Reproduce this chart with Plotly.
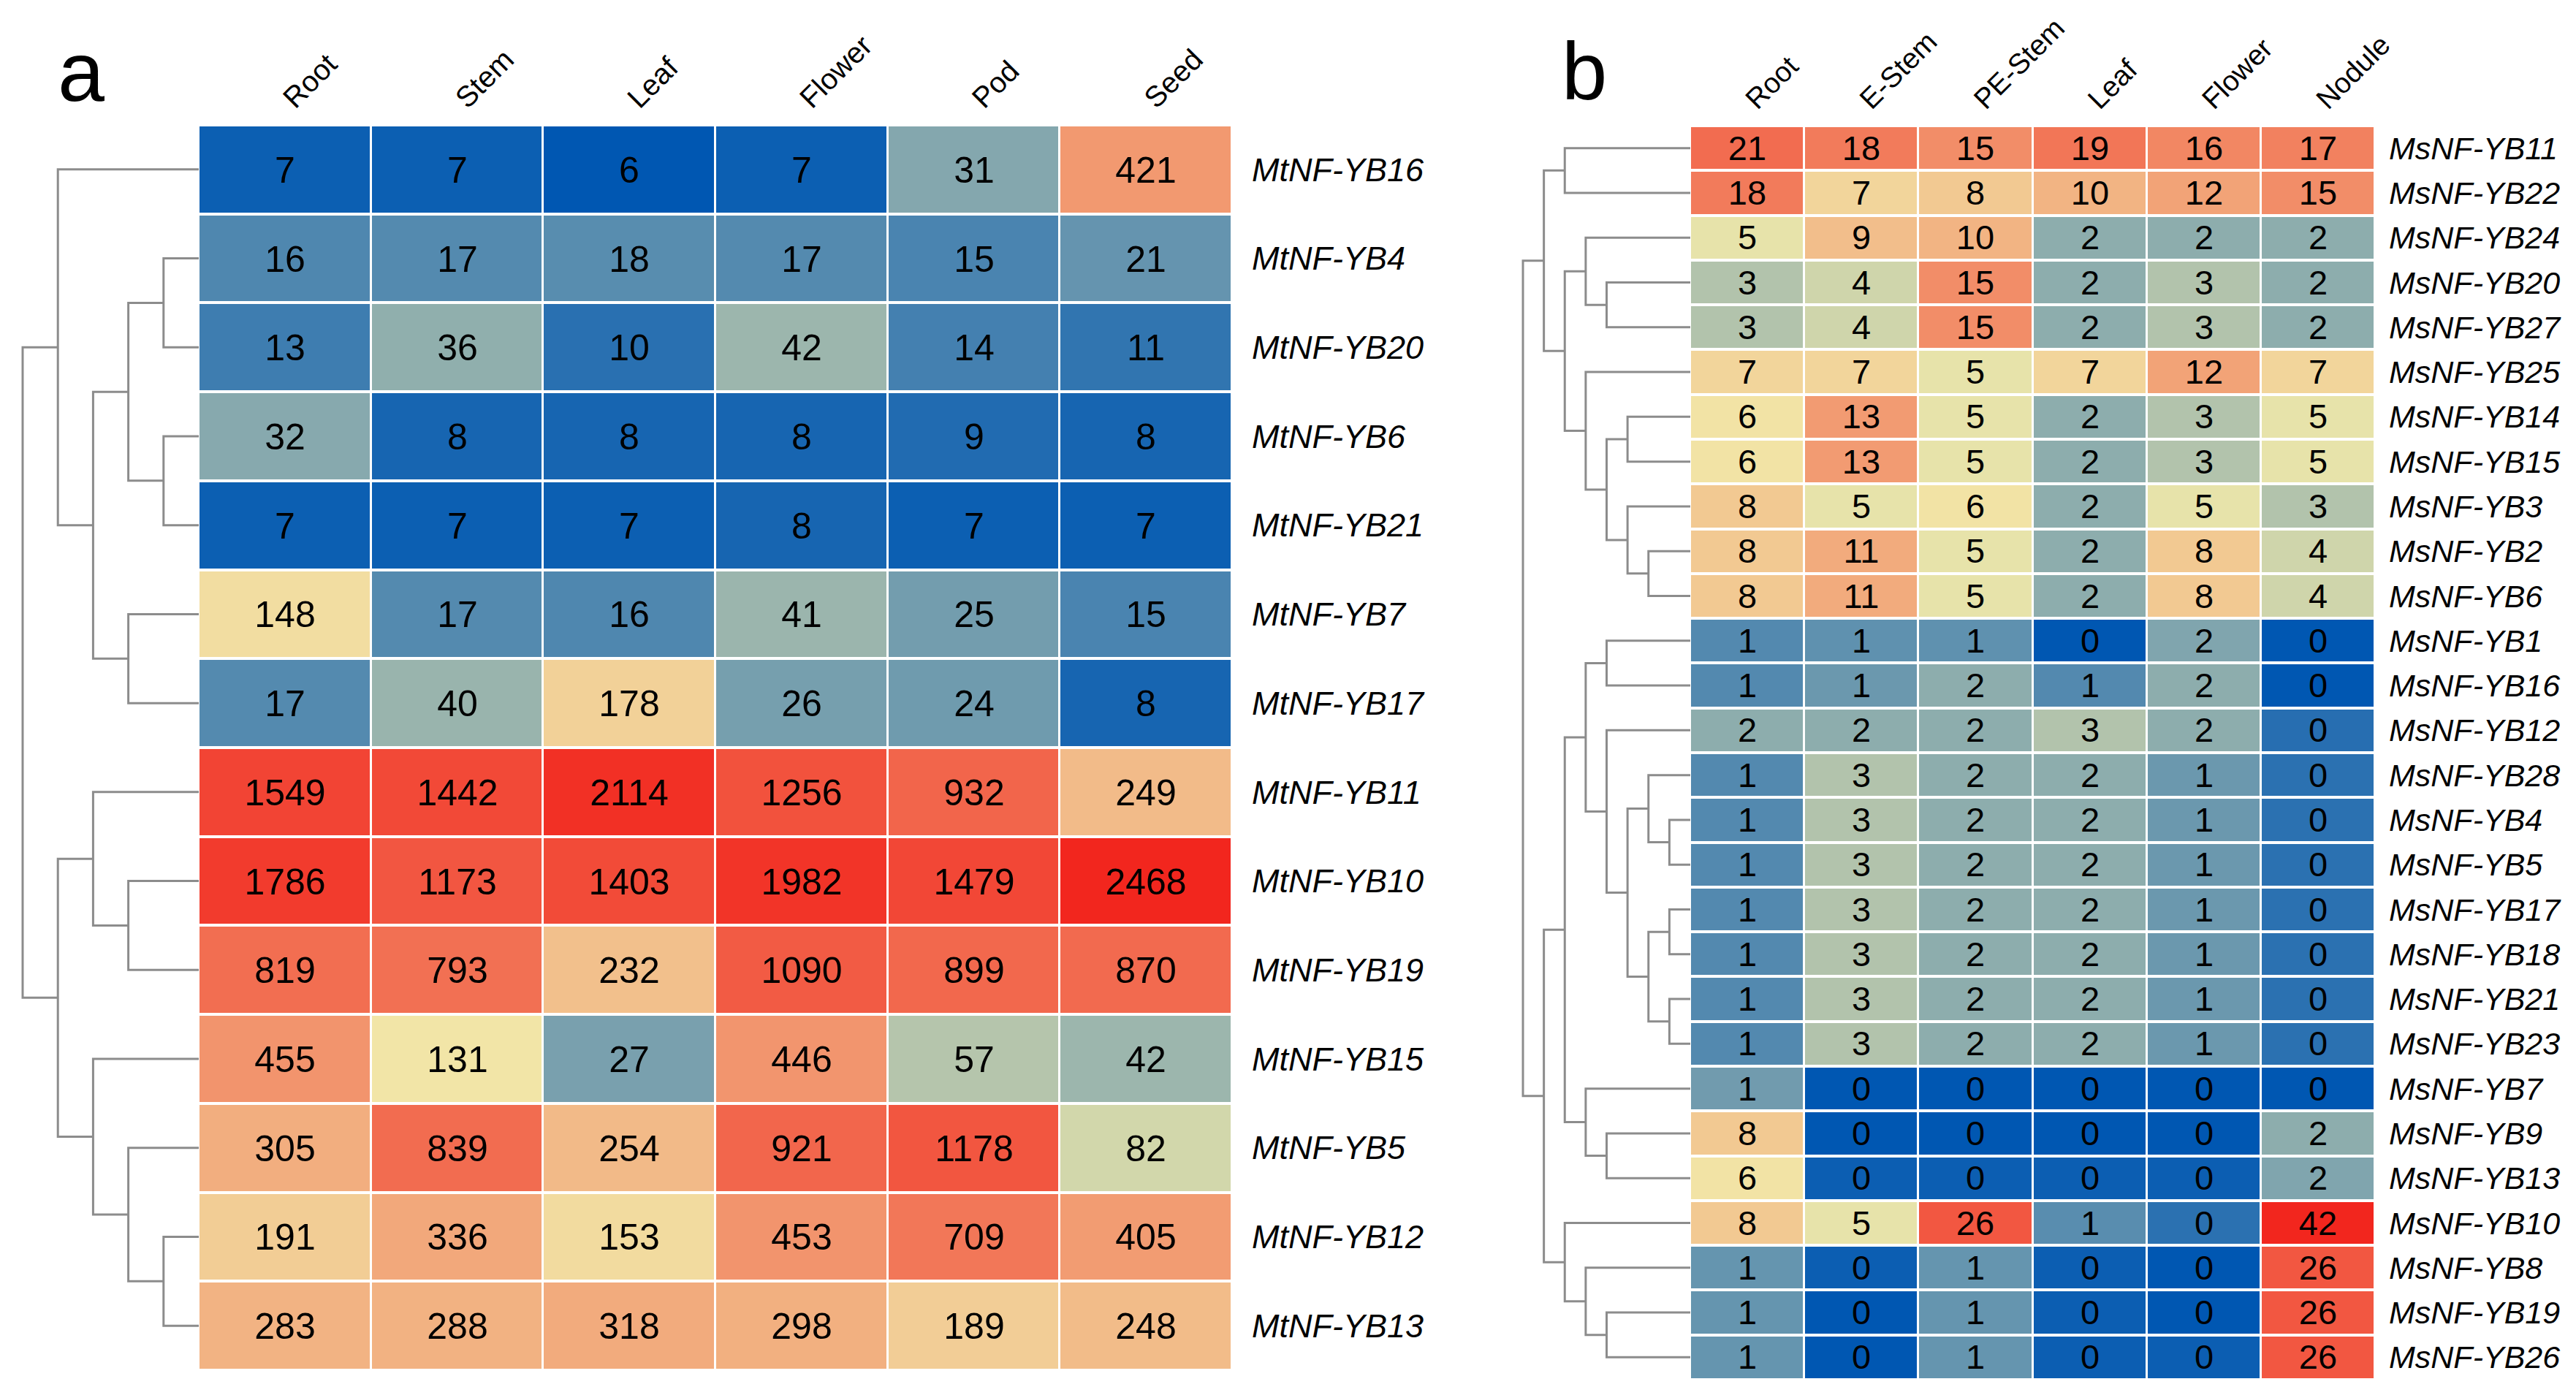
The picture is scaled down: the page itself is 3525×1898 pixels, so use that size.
import numpy as np
import plotly.graph_objects as go

W, H = 3525, 1898

# ---------------- Panel a data ----------------
a_cols = ["Root", "Stem", "Leaf", "Flower", "Pod", "Seed"]
a_rows = ["MtNF-YB16", "MtNF-YB4", "MtNF-YB20", "MtNF-YB6", "MtNF-YB21", "MtNF-YB7",
          "MtNF-YB17", "MtNF-YB11", "MtNF-YB10", "MtNF-YB19", "MtNF-YB15", "MtNF-YB5",
          "MtNF-YB12", "MtNF-YB13"]
a_vals = [
    [7, 7, 6, 7, 31, 421],
    [16, 17, 18, 17, 15, 21],
    [13, 36, 10, 42, 14, 11],
    [32, 8, 8, 8, 9, 8],
    [7, 7, 7, 8, 7, 7],
    [148, 17, 16, 41, 25, 15],
    [17, 40, 178, 26, 24, 8],
    [1549, 1442, 2114, 1256, 932, 249],
    [1786, 1173, 1403, 1982, 1479, 2468],
    [819, 793, 232, 1090, 899, 870],
    [455, 131, 27, 446, 57, 42],
    [305, 839, 254, 921, 1178, 82],
    [191, 336, 153, 453, 709, 405],
    [283, 288, 318, 298, 189, 248],
]
# dendrogram: [merge_level, left, right]; ints are row indices
a_tree = [5,
          [4, 0, [3, [2, [1, 1, 2], [1, 3, 4]], [2, 5, 6]]],
          [4, [3, 7, [2, 8, 9]], [3, 10, [2, 11, [1, 12, 13]]]]]

# ---------------- Panel b data ----------------
b_cols = ["Root", "E-Stem", "PE-Stem", "Leaf", "Flower", "Nodule"]
b_rows = ["MsNF-YB11", "MsNF-YB22", "MsNF-YB24", "MsNF-YB20", "MsNF-YB27", "MsNF-YB25",
          "MsNF-YB14", "MsNF-YB15", "MsNF-YB3", "MsNF-YB2", "MsNF-YB6", "MsNF-YB1",
          "MsNF-YB16", "MsNF-YB12", "MsNF-YB28", "MsNF-YB4", "MsNF-YB5", "MsNF-YB17",
          "MsNF-YB18", "MsNF-YB21", "MsNF-YB23", "MsNF-YB7", "MsNF-YB9", "MsNF-YB13",
          "MsNF-YB10", "MsNF-YB8", "MsNF-YB19", "MsNF-YB26"]
# printed values are rounded; decimals estimated from the cell shades
b_vals = [
    [21, 18, 15, 19, 16, 17],
    [18, 7, 8, 10, 12, 15],
    [5, 9, 10, 2, 2, 2],
    [3, 4, 15, 2, 3, 2],
    [3, 4, 15, 2, 3, 2],
    [7, 7, 5, 7, 12, 7],
    [6, 13, 5, 2, 3, 5],
    [6, 13, 5, 2, 3, 5],
    [8, 5, 6, 2, 5, 3],
    [8, 11, 5, 2, 8, 4],
    [8, 11, 5, 2, 8, 4],
    [0.9, 1.1, 1.1, 0, 1.7, 0],
    [0.9, 1.3, 2, 0.9, 2, 0],
    [2, 2, 2, 3, 2, 0.35],
    [0.9, 3, 2, 2, 1.3, 0.4],
    [0.9, 3, 2, 2, 1.3, 0.4],
    [0.9, 3, 2, 2, 1.3, 0.4],
    [0.9, 3, 2, 2, 1.3, 0.4],
    [0.9, 3, 2, 2, 1.3, 0.4],
    [0.9, 3, 2, 2, 1.3, 0.4],
    [0.9, 3, 2, 2, 1.3, 0.4],
    [1.4, 0, 0, 0, 0, 0],
    [8, 0, 0, 0, 0, 2],
    [6, 0.1, 0.1, 0.1, 0.1, 1.7],
    [8, 5, 26, 1, 0.4, 42],
    [1.2, 0.1, 1.2, 0.1, 0, 26],
    [1.2, 0, 1.2, 0.1, 0, 26],
    [1.2, 0, 1.2, 0.1, 0.1, 26],
]
b_tree = [8,
          [7, [6, 0, 1],
              [6, [5, 2, [4, 3, 4]],
                  [5, 5, [4, [3, 6, 7], [3, 8, [2, 9, 10]]]]]],
          [7, [6, [5, [4, 11, 12],
                      [4, 13, [3, [2, 14, [1, 15, 16]], [2, [1, 17, 18], [1, 19, 20]]]]],
                  [5, 21, [4, 22, 23]]],
              [6, 24, [5, 25, [4, 26, 27]]]]]

# ---------------- style ----------------
colorscale = [[0.0, "rgb(0,87,178)"], [0.5, "rgb(242,234,170)"], [1.0, "rgb(242,38,30)"]]
FONT = "Liberation Sans, Arial, sans-serif"
LINE_COL = "rgb(140,140,140)"


def px_x(p):
    return p / W


def px_y(p):
    return 1 - p / H


# layout geometry in pixels
A_L, A_R, A_T, A_B = 264, 1678, 163, 1867
B_L, B_R, B_T, B_B = 2305, 3242, 164, 1880
A_DEN_ROOT, B_DEN_ROOT = 23, 2076


def dendro_segments(tree):
    xs, ys = [], []

    def walk(node):
        if isinstance(node, int):
            return 0.0, float(node)
        h, left, right = node
        lh, ly = walk(left)
        rh, ry = walk(right)
        xs.extend([lh, h, h, rh, None])
        ys.extend([ly, ly, ry, ry, None])
        return float(h), (ly + ry) / 2

    walk(tree)
    return xs, ys, tree[0]


fig = go.Figure()

# heatmap a
za = np.log10(np.array(a_vals, dtype=float))
fig.add_trace(go.Heatmap(
    z=za, x=list(range(len(a_cols))), y=list(range(len(a_rows))),
    text=[[f"{v:.0f}" for v in r] for r in a_vals], texttemplate="%{text}",
    textfont=dict(family=FONT, size=50, color="black"),
    colorscale=colorscale, zmin=za.min(), zmax=za.max(), showscale=False,
    xgap=3, ygap=4, xaxis="x", yaxis="y", hoverinfo="skip"))

# heatmap b
zb = np.log10(np.array(b_vals, dtype=float) + 1)
fig.add_trace(go.Heatmap(
    z=zb, x=list(range(len(b_cols))), y=list(range(len(b_rows))),
    text=[[f"{v:.0f}" for v in r] for r in b_vals], texttemplate="%{text}",
    textfont=dict(family=FONT, size=47, color="black"),
    colorscale=colorscale, zmin=zb.min(), zmax=zb.max(), showscale=False,
    xgap=3, ygap=4, xaxis="x2", yaxis="y2", hoverinfo="skip"))

# dendrograms
ax_, ay_, ah = dendro_segments(a_tree)
fig.add_trace(go.Scatter(x=ax_, y=ay_, mode="lines", line=dict(color=LINE_COL, width=3),
                         xaxis="x3", yaxis="y", hoverinfo="skip", showlegend=False))
bx_, by_, bh = dendro_segments(b_tree)
fig.add_trace(go.Scatter(x=bx_, y=by_, mode="lines", line=dict(color=LINE_COL, width=3),
                         xaxis="x4", yaxis="y2", hoverinfo="skip", showlegend=False))

pad = 0.3
a_step = (A_L - A_DEN_ROOT) / ah
b_step = (B_L - B_DEN_ROOT) / bh

fig.update_layout(
    template="none",
    width=W, height=H, margin=dict(l=0, r=0, t=0, b=0, pad=0),
    paper_bgcolor="white", plot_bgcolor="white", showlegend=False,
    font=dict(family=FONT, color="black"),
    xaxis=dict(domain=[px_x(A_L), px_x(A_R)], range=[-0.5, len(a_cols) - 0.5],
               side="top", tickvals=list(range(len(a_cols))), ticktext=a_cols,
               tickangle=-45, tickfont=dict(family=FONT, size=40), ticks="",
               showgrid=False, zeroline=False, showline=False, anchor="y",
               ticklabelstandoff=6, automargin=False),
    yaxis=dict(domain=[px_y(A_B), px_y(A_T)], range=[len(a_rows) - 0.5, -0.5],
               side="right", tickvals=list(range(len(a_rows))), ticktext=a_rows,
               tickfont=dict(family=FONT, size=45, style="italic"), ticks="",
               ticklabelstandoff=26, showgrid=False, zeroline=False, showline=False,
               anchor="x", automargin=False),
    xaxis2=dict(domain=[px_x(B_L), px_x(B_R)], range=[-0.5, len(b_cols) - 0.5],
                side="top", tickvals=list(range(len(b_cols))), ticktext=b_cols,
                tickangle=-45, tickfont=dict(family=FONT, size=39), ticks="",
                showgrid=False, zeroline=False, showline=False, anchor="y2",
                ticklabelstandoff=6, automargin=False),
    yaxis2=dict(domain=[px_y(B_B), px_y(B_T)], range=[len(b_rows) - 0.5, -0.5],
                side="right", tickvals=list(range(len(b_rows))), ticktext=b_rows,
                tickfont=dict(family=FONT, size=43, style="italic"), ticks="",
                ticklabelstandoff=18, showgrid=False, zeroline=False, showline=False,
                anchor="x2", automargin=False),
    xaxis3=dict(domain=[px_x(A_DEN_ROOT - pad * a_step), px_x(A_L)], range=[ah + pad, 0],
                visible=False, anchor="y", automargin=False),
    xaxis4=dict(domain=[px_x(B_DEN_ROOT - pad * b_step), px_x(B_L)], range=[bh + pad, 0],
                visible=False, anchor="y2", automargin=False),
)

fig.add_annotation(text="a", x=px_x(103), y=px_y(90), xref="paper", yref="paper",
                   showarrow=False, font=dict(family=FONT, size=115, color="black"),
                   xanchor="center", yanchor="middle")
fig.add_annotation(text="b", x=px_x(2160), y=px_y(90), xref="paper", yref="paper",
                   showarrow=False, font=dict(family=FONT, size=112, color="black"),
                   xanchor="center", yanchor="middle")

fig.write_html("out.html")
